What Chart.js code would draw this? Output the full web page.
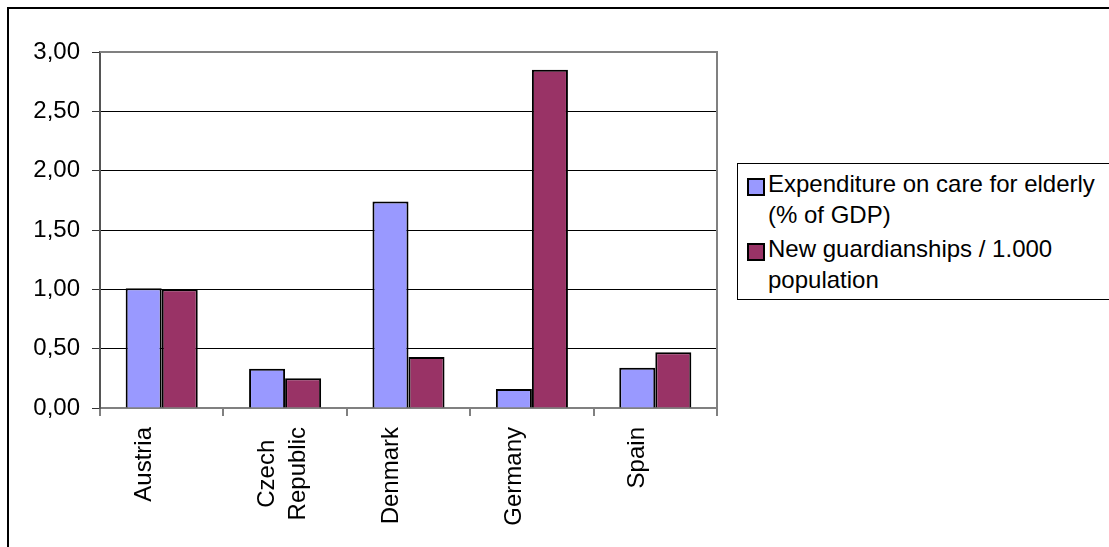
<!DOCTYPE html>
<html lang="en">
<head>
  <meta charset="UTF-8">
  <title>Expenditure on care for elderly vs new guardianships</title>
  <style>
    body {
      margin: 0;
      width: 1109px;
      height: 547px;
      overflow: hidden;
      background: #fff;
      font-family: 'Liberation Sans', Arial, sans-serif;
    }
    #chart {
      position: absolute;
      left: 0;
      top: 0;
    }
    .legend {
      position: absolute;
      left: 737px;
      top: 163px;
      width: 420px;
      height: 131px;
      border: 1px solid #000;
      background: #fff;
      padding-top: 4px;
      box-sizing: content-box;
    }
    .legend .item {
      position: relative;
      padding-left: 30px;
      font-size: 24px;
      line-height: 31px;
      white-space: nowrap;
      color: #000;
      margin-bottom: 3px;
    }
    .legend .box {
      position: absolute;
      left: 9px;
      top: 10px;
      width: 14px;
      height: 14px;
      border: 2px solid #000;
    }
  </style>
</head>
<body>
<canvas id="chart" width="1109" height="547"></canvas>
<div class="legend" id="legend"></div>

<script src="https://cdn.jsdelivr.net/npm/chart.js@4.4.0/dist/chart.umd.min.js"></script>
<script>
  const countries = [['Austria'], ['Czech', 'Republic'], ['Denmark'], ['Germany'], ['Spain']];
  const expenditure = [1.01, 0.33, 1.74, 0.16, 0.34];
  const guardianships = [1.00, 0.25, 0.43, 2.85, 0.47];
  const seriesNames = [
    ['Expenditure on care for elderly', '(% of GDP)'],
    ['New guardianships / 1.000', 'population']
  ];
  const yTicks = [0, 0.5, 1, 1.5, 2, 2.5, 3];
  const colors = ['#9999ff', '#993366'];

  const FONT = "'Liberation Sans', Arial, sans-serif";

  // legend as html so the two-line names wrap like the original
  const legend = document.getElementById('legend');
  seriesNames.forEach((lines, i) => {
    const item = document.createElement('div');
    item.className = 'item';
    item.innerHTML = `<span class="box" style="background:${colors[i]}"></span>${lines.join('<br>')}`;
    legend.appendChild(item);
  });

  // frame, plot border and rotated category labels
  const decor = {
    id: 'decor',
    beforeDraw(chart) {
      const ctx = chart.ctx;
      ctx.save();
      ctx.fillStyle = '#fff';
      ctx.fillRect(0, 0, chart.width, chart.height);
      ctx.strokeStyle = '#000';
      ctx.lineWidth = 2;
      ctx.beginPath();
      ctx.moveTo(8, chart.height);
      ctx.lineTo(8, 8);
      ctx.lineTo(chart.width, 8);
      ctx.stroke();
      ctx.restore();
    },
    beforeDatasetsDraw(chart) {
      const { ctx, chartArea: a } = chart;
      ctx.save();
      ctx.strokeStyle = '#808080';
      ctx.lineWidth = 2;
      ctx.beginPath();
      ctx.moveTo(a.left, a.top);
      ctx.lineTo(a.right, a.top);
      ctx.lineTo(a.right, a.bottom);
      ctx.stroke();
      ctx.restore();
    },
    afterDraw(chart) {
      const ctx = chart.ctx;
      const xs = chart.scales.x;
      const top = chart.chartArea.bottom + 19;
      ctx.save();
      ctx.font = '24px ' + FONT;
      ctx.fillStyle = '#000';
      ctx.textAlign = 'center';
      ctx.textBaseline = 'middle';
      countries.forEach((lines, i) => {
        const cx = xs.getPixelForValue(i);
        const w = Math.max(...lines.map(t => ctx.measureText(t).width));
        lines.forEach((t, j) => {
          ctx.save();
          ctx.translate(cx + (j - 0.5) * 31 - 2, top + w / 2);
          ctx.rotate(-Math.PI / 2);
          ctx.fillText(t, 0, 0);
          ctx.restore();
        });
      });
      ctx.restore();
    }
  };

  new Chart(document.getElementById('chart'), {
    type: 'bar',
    data: {
      labels: countries.map(l => l.join(' ')),
      datasets: [
        {
          label: seriesNames[0].join(' '),
          data: expenditure,
          backgroundColor: colors[0],
          borderColor: '#000',
          borderWidth: 2
        },
        {
          label: seriesNames[1].join(' '),
          data: guardianships,
          backgroundColor: colors[1],
          borderColor: '#000',
          borderWidth: 2
        }
      ]
    },
    options: {
      responsive: false,
      animation: false,
      devicePixelRatio: 1,
      categoryPercentage: 0.584,
      barPercentage: 1,
      layout: {
        autoPadding: false,
        padding: { top: 52, right: 392, bottom: 0, left: 0 }
      },
      plugins: {
        legend: { display: false },
        tooltip: { enabled: false }
      },
      scales: {
        x: {
          grid: {
            offset: true,
            drawOnChartArea: false,
            tickLength: 8,
            color: '#808080',
            lineWidth: 2
          },
          border: { color: '#808080', width: 2 },
          ticks: { display: false },
          afterFit(scale) { scale.height = 139; }
        },
        y: {
          min: 0,
          max: 3,
          afterBuildTicks(scale) {
            scale.ticks = yTicks.map(v => ({ value: v }));
          },
          ticks: {
            color: '#000',
            padding: 12,
            font: { family: FONT, size: 24 },
            callback: v => v.toFixed(2).replace('.', ',')
          },
          grid: {
            color: c => (c.tick && c.tick.value === 3) ? 'rgba(0,0,0,0)' : '#000',
            tickColor: '#333',
            lineWidth: 1,
            tickLength: 8
          },
          border: { color: '#555', width: 2 },
          afterFit(scale) { scale.width = 100; }
        }
      }
    },
    plugins: [decor]
  });
</script>
</body>
</html>
